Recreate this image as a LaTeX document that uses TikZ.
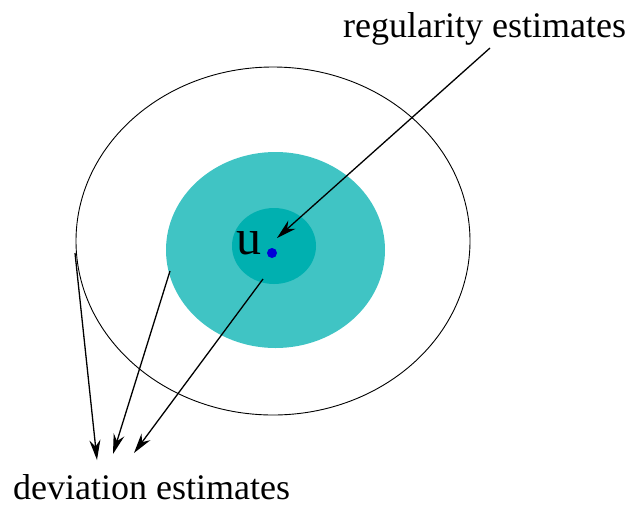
\documentclass[tikz,border=0pt]{standalone}
\usepackage{fontspec}
\setmainfont{Liberation Serif}
\usepackage{xcolor}
\usepackage{tikz}
\usetikzlibrary{arrows.meta}

\definecolor{tealout}{RGB}{64,196,196}
\definecolor{tealin}{RGB}{0,176,176}
\definecolor{dotblue}{RGB}{0,0,215}

\begin{document}
\begin{tikzpicture}[x=1pt,y=-1pt,
  est/.style={font=\fontsize{36}{40}\selectfont, inner sep=0pt, anchor=base west},
  arr/.style={-{Stealth[length=20pt,width=11pt]}, line width=1.3pt}]
  \useasboundingbox (0,0) rectangle (632,507);
  % Gebiete
  \draw[line width=0.9pt] (273,241) ellipse [x radius=197, y radius=174];
  \fill[tealout] (275.5,250) ellipse [x radius=109.5, y radius=98];
  \fill[tealin] (274,246) ellipse [x radius=42, y radius=38];
  \fill[dotblue] (272,253) circle (5);
  \node[inner sep=0pt, anchor=base west, font=\fontsize{50}{54}\selectfont] (u) at (236,254) {u};
  % Beschriftungen
  \node[est] (reg) at (343,37) {regularity estimates};
  \node[est] (dev) at (13,499) {deviation estimates};
  % Pfeile
  \coordinate (r0) at (490,48);
  \coordinate (r1) at (277,238);
  \coordinate (d0) at (75,253);
  \coordinate (d1) at (97,460);
  \coordinate (e0) at (170,271);
  \coordinate (e1) at (113,454);
  \coordinate (f0) at (263,279);
  \coordinate (f1) at (134,453);
  \draw[arr] (r0) -- (r1);
  \draw[arr] (d0) -- (d1);
  \draw[arr] (e0) -- (e1);
  \draw[arr] (f0) -- (f1);
\end{tikzpicture}
\end{document}
